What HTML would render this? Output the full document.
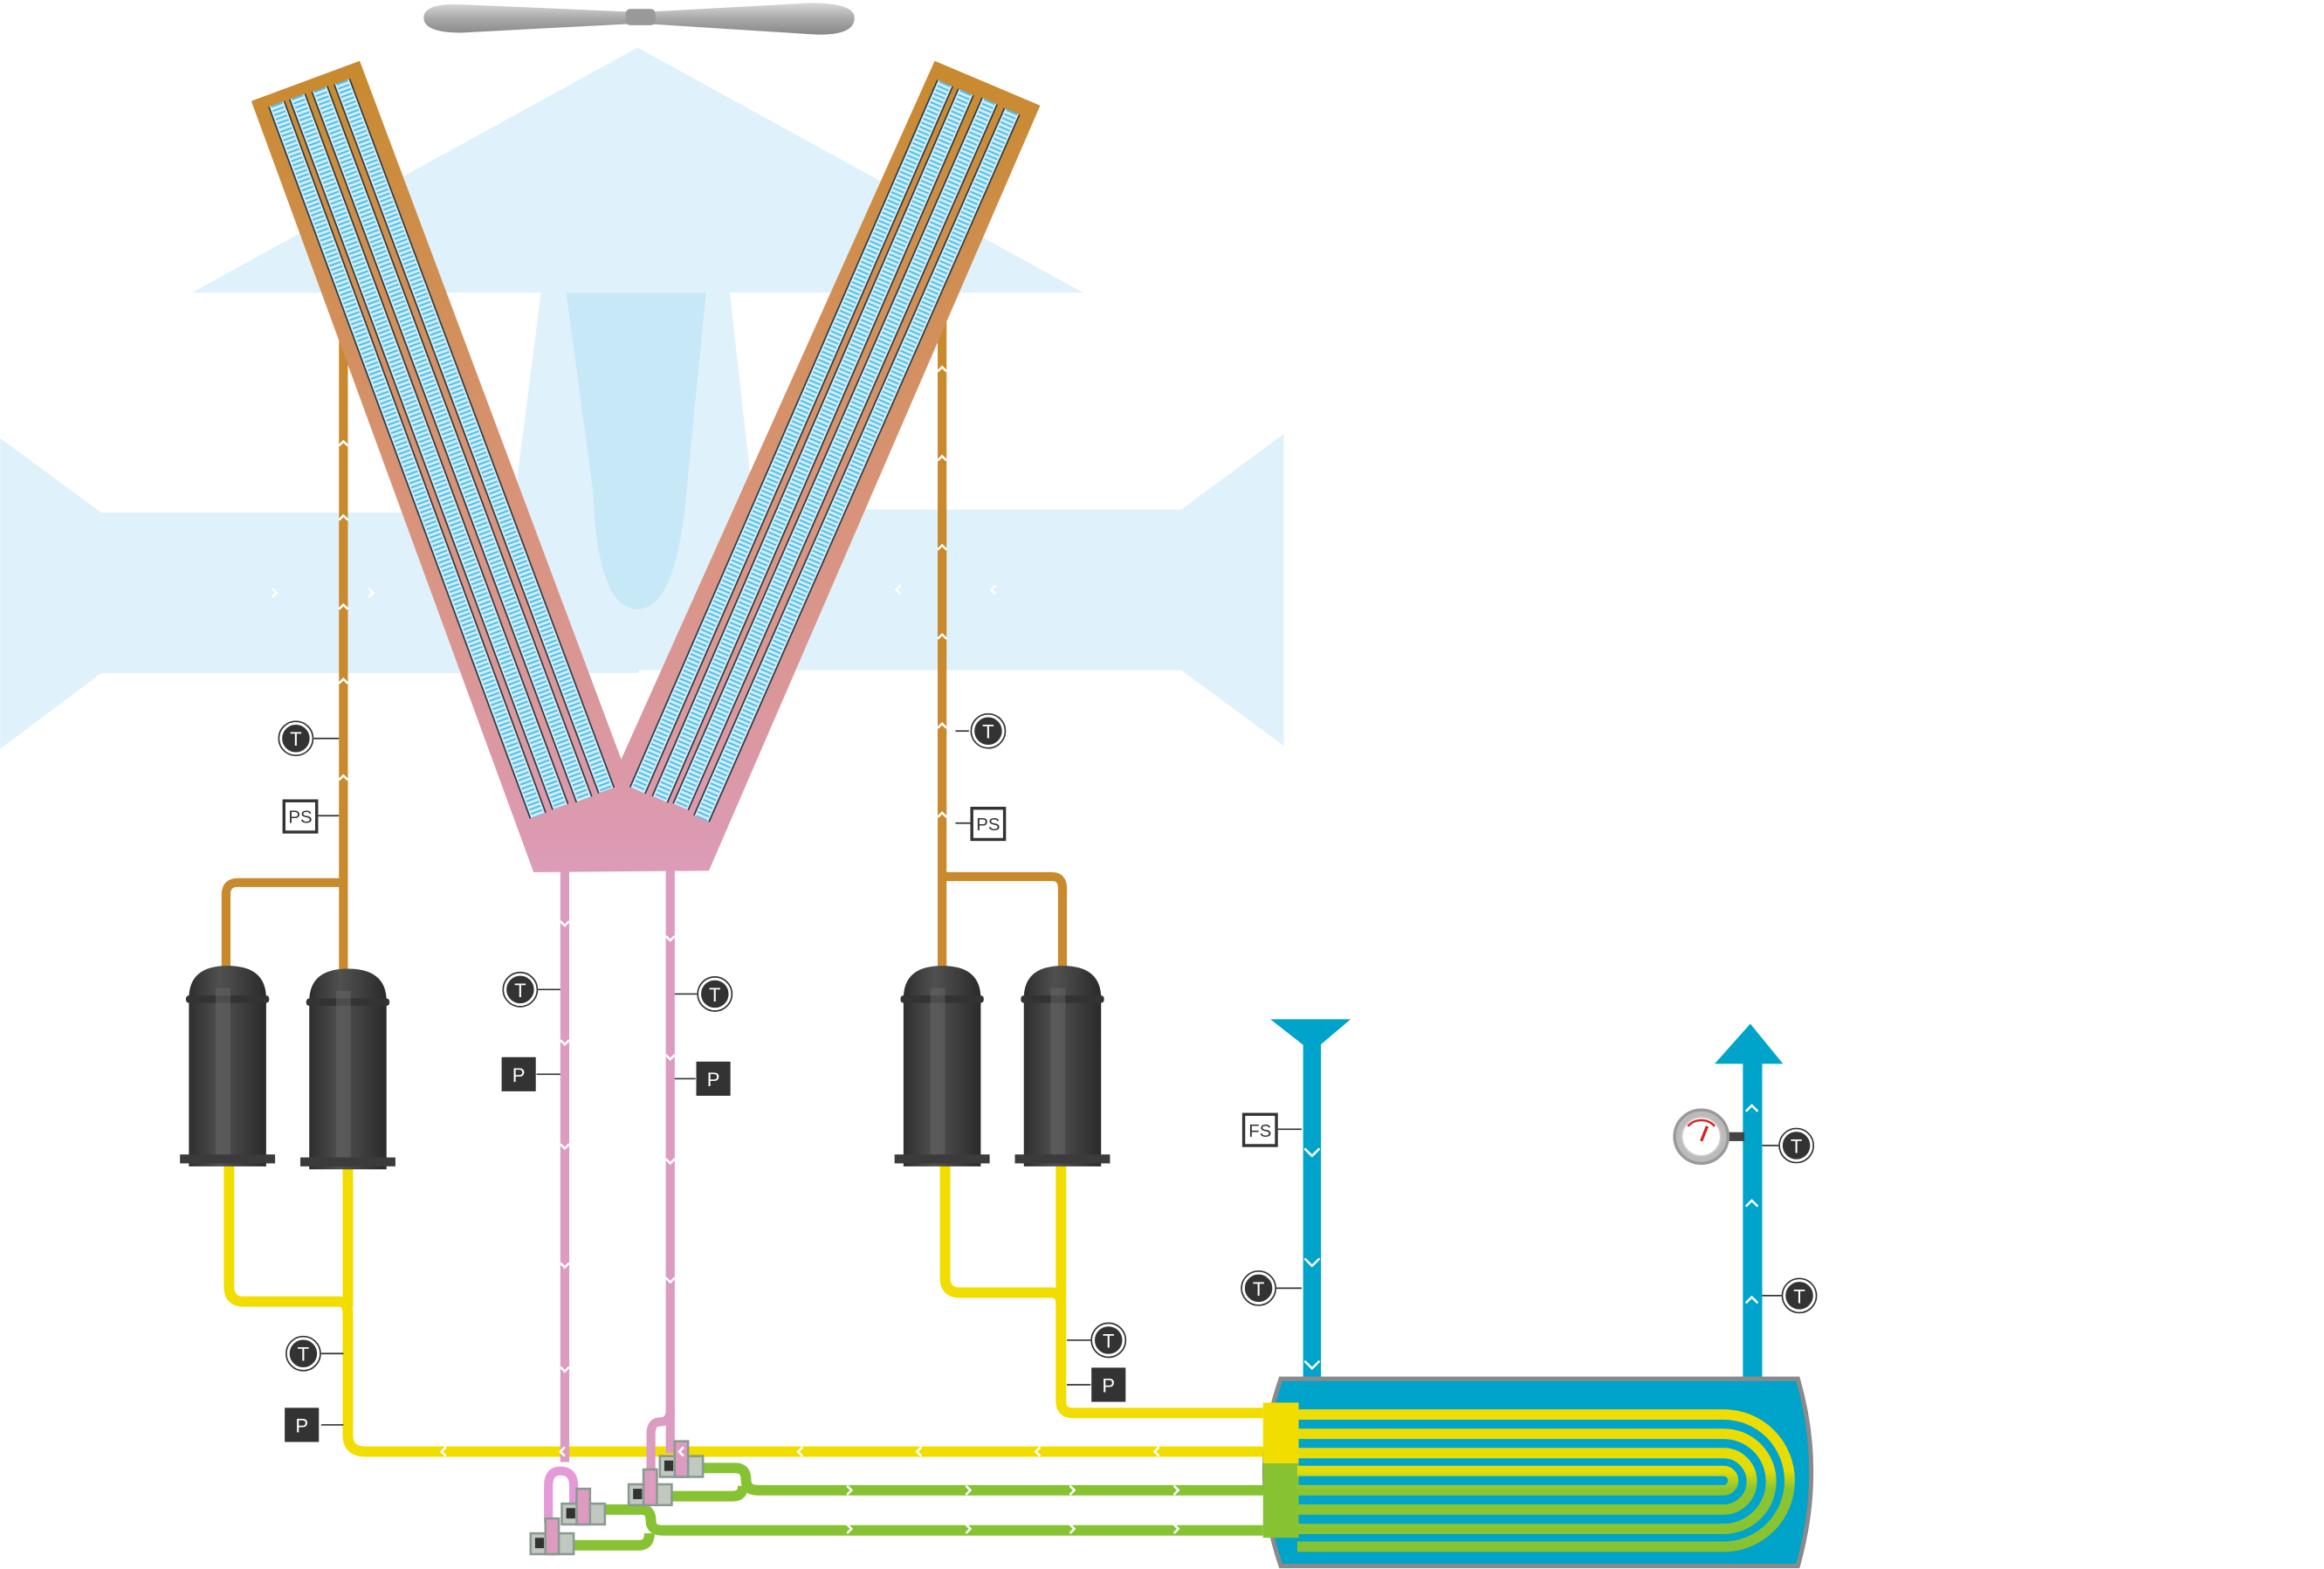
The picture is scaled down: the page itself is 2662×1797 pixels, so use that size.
<!DOCTYPE html>
<html><head><meta charset="utf-8"><style>html,body{margin:0;padding:0;background:#fff}svg{display:block}text{font-family:"Liberation Sans",sans-serif}</style></head><body>
<svg width="2662" height="1797" viewBox="0 0 1564 1056" xmlns="http://www.w3.org/2000/svg">
<defs>
<linearGradient id="vg" x1="0" y1="40" x2="0" y2="587" gradientUnits="userSpaceOnUse"><stop offset="0" stop-color="#c88a2c"/><stop offset="0.55" stop-color="#d9937a"/><stop offset="1" stop-color="#dc9bb8"/></linearGradient>
<linearGradient id="fan" x1="0" y1="0" x2="0" y2="1"><stop offset="0" stop-color="#d8d8d8"/><stop offset="0.5" stop-color="#a8a8a8"/><stop offset="1" stop-color="#888"/></linearGradient>
<linearGradient id="comp" x1="0" y1="0" x2="1" y2="0"><stop offset="0" stop-color="#2e2e2e"/><stop offset="0.4" stop-color="#505050"/><stop offset="0.6" stop-color="#444"/><stop offset="1" stop-color="#2a2a2a"/></linearGradient>
<linearGradient id="coil" x1="0" y1="950" x2="0" y2="1045" gradientUnits="userSpaceOnUse"><stop offset="0" stop-color="#f1dd00"/><stop offset="0.42" stop-color="#e3dc08"/><stop offset="0.55" stop-color="#8cc530"/><stop offset="1" stop-color="#86c232"/></linearGradient>
<g id="comp1">
<path d="M0,135 V22 Q0,0 26,0 Q52,0 52,22 V135 Z" fill="url(#comp)"/>
<rect x="-2" y="20" width="56" height="5" rx="2" fill="#333"/>
<rect x="18" y="15" width="10" height="115" fill="#666" opacity="0.5"/>
<rect x="-6" y="127" width="64" height="6" fill="#3b3b3b"/>
</g>
</defs>
<!-- air flow shapes -->
<g fill="#dff1fa">
<polygon points="429,32 729,197 129,197"/>
<path d="M364,197 L491,197 L506,330 Q510,440 429,440 Q350,440 347,330 Z"/>
<polygon points="0,295 68,345 430,345 430,453 68,453 0,504"/>
<polygon points="864,292 795,343 430,343 430,451 795,451 864,502"/>
</g>
<path d="M381,197 L475,197 L462,330 Q455,410 429,410 Q402,410 399,330 Z" fill="#c6e8f7"/>
<!-- fan -->
<path d="M285,12 Q285,2 310,3 L425,8 L435,8 L545,2 Q575,2 575,12 Q575,25 545,23 L435,16 L425,16 L310,22 Q285,22 285,12Z" fill="url(#fan)"/>
<rect x="421" y="6" width="20" height="11" rx="3" fill="#999"/>
<!-- orange pipes -->
<g fill="none" stroke="#c88a2c" stroke-width="6">
<path d="M231,222 V590 M231,594 H160 Q152,594 152,602 V652 M231,590 V655"/>
<path d="M634,210 V652 M634,590 H708 Q715,590 715,598 V652"/>
</g>
<!-- yellow pipes -->
<g fill="none" stroke="#f1dd00" stroke-width="7">
<path d="M154,784 V866 Q154,876 164,876 H228 Q234,876 234,884 V966 Q234,977 246,977 H850"/>
<path d="M234,784 V880"/>
<path d="M636,784 V860 Q636,870 646,870 H708 Q714,870 714,878 V943 Q714,951 722,951 H850"/>
<path d="M714,784 V876"/>
</g>
<!-- pink pipes -->
<g fill="none" stroke="#dc9bc0" stroke-width="6">
<path d="M380,585 V984"/>
<path d="M451,585 V949 Q451,957 444,957 Q438,957 438,965 V996"/>
<path d="M451,949 V978"/>
</g>
<path d="M369,1025 V1000 Q369,990 377,990 Q386,990 386,1000 V1012" fill="none" stroke="#e59ad8" stroke-width="6"/>
<!-- green pipes -->
<g fill="none" stroke="#86c232" stroke-width="7">
<path d="M468,988 H495 Q502,988 502,996 Q502,1003 510,1003 H850"/>
<path d="M448,1007 H493 Q500,1007 500,1000"/>
<path d="M403,1016 H432 Q438,1016 438,1024 Q438,1030 446,1030 H850"/>
<path d="M382,1040 H430 Q437,1040 437,1032"/>
</g>
<!-- valves -->
<g id="valves" stroke="#8a9a90" stroke-width="1.5">
<g transform="translate(444,974)"><rect x="0" y="6" width="29" height="14" fill="#c0c8c0"/><rect x="10" y="-4" width="9" height="24" fill="#dd9bc0"/><rect x="3" y="9" width="6" height="7" fill="#333" stroke="none"/></g>
<g transform="translate(423,993)"><rect x="0" y="6" width="29" height="14" fill="#c0c8c0"/><rect x="10" y="-4" width="9" height="24" fill="#dd9bc0"/><rect x="3" y="9" width="6" height="7" fill="#333" stroke="none"/></g>
<g transform="translate(378,1006)"><rect x="0" y="6" width="29" height="14" fill="#c0c8c0"/><rect x="10" y="-4" width="9" height="24" fill="#dd9bc0"/><rect x="3" y="9" width="6" height="7" fill="#333" stroke="none"/></g>
<g transform="translate(357,1026)"><rect x="0" y="6" width="29" height="14" fill="#c0c8c0"/><rect x="10" y="-4" width="9" height="24" fill="#dd9bc0"/><rect x="3" y="9" width="6" height="7" fill="#333" stroke="none"/></g>
</g>
<!-- V coil -->
<polygon points="169,68 242,41 418,511 629,41 700,71 477,586 359,587" fill="url(#vg)"/>
<g stroke-linecap="butt">
<g stroke="#2d3b42" stroke-width="12">
<line x1="186" y1="70" x2="362" y2="549"/><line x1="200" y1="65" x2="377" y2="543"/><line x1="215" y1="60" x2="393" y2="538"/><line x1="230" y1="55" x2="408" y2="532"/>
<line x1="636" y1="56" x2="429" y2="532"/><line x1="650" y1="62" x2="444" y2="538"/><line x1="666" y1="68" x2="458" y2="543"/><line x1="681" y1="75" x2="472" y2="551"/>
</g>
<g stroke="#cdeefb" stroke-width="10">
<line x1="186" y1="70" x2="362" y2="549"/><line x1="200" y1="65" x2="377" y2="543"/><line x1="215" y1="60" x2="393" y2="538"/><line x1="230" y1="55" x2="408" y2="532"/>
<line x1="636" y1="56" x2="429" y2="532"/><line x1="650" y1="62" x2="444" y2="538"/><line x1="666" y1="68" x2="458" y2="543"/><line x1="681" y1="75" x2="472" y2="551"/>
</g>
<g stroke="#55bde8" stroke-width="8" stroke-dasharray="1.2 1.8">
<line x1="186" y1="70" x2="362" y2="549"/><line x1="200" y1="65" x2="377" y2="543"/><line x1="215" y1="60" x2="393" y2="538"/><line x1="230" y1="55" x2="408" y2="532"/>
<line x1="636" y1="56" x2="429" y2="532"/><line x1="650" y1="62" x2="444" y2="538"/><line x1="666" y1="68" x2="458" y2="543"/><line x1="681" y1="75" x2="472" y2="551"/>
</g>
</g>
<!-- compressors -->
<use href="#comp1" x="127" y="650"/>
<use href="#comp1" x="208" y="652"/>
<use href="#comp1" x="608" y="650"/>
<use href="#comp1" x="689" y="650"/>
<!-- blue pipes -->
<rect x="877" y="700" width="12" height="230" fill="#00a3c9"/>
<polygon points="855,686 909,686 883,708" fill="#00a3c9"/>
<rect x="1173" y="712" width="13" height="220" fill="#00a3c9"/>
<polygon points="1154,716 1200,716 1178,689" fill="#00a3c9"/>
<!-- chevrons -->
<g fill="none" stroke="#fff" stroke-width="1.5">
<path d="M878,773 l5,5 l5,-5 M878,847 l5,5 l5,-5 M878,916 l5,5 l5,-5"/>
<path d="M1175,748 l4,-4 l4,4 M1175,812 l4,-4 l4,4 M1175,877 l4,-4 l4,4"/>
<path d="M228,300 l3,-3 l3,3 M228,350 l3,-3 l3,3 M228,410 l3,-3 l3,3 M228,460 l3,-3 l3,3 M228,525 l3,-3 l3,3"/>
<path d="M631,250 l3,-3 l3,3 M631,310 l3,-3 l3,3 M631,370 l3,-3 l3,3 M631,430 l3,-3 l3,3 M631,490 l3,-3 l3,3 M631,550 l3,-3 l3,3"/>
<path d="M377,620 l3,3 l3,-3 M377,700 l3,3 l3,-3 M377,770 l3,3 l3,-3 M377,850 l3,3 l3,-3 M377,920 l3,3 l3,-3"/>
<path d="M448,630 l3,3 l3,-3 M448,710 l3,3 l3,-3 M448,780 l3,3 l3,-3 M448,860 l3,3 l3,-3"/>
<path d="M300,974 l-3,3 l3,3 M380,974 l-3,3 l3,3 M460,974 l-3,3 l3,3 M540,974 l-3,3 l3,3 M620,974 l-3,3 l3,3 M700,974 l-3,3 l3,3 M780,974 l-3,3 l3,3"/>
<path d="M570,1000 l3,3 l-3,3 M650,1000 l3,3 l-3,3 M720,1000 l3,3 l-3,3 M790,1000 l3,3 l-3,3 M570,1026 l3,3 l-3,3 M650,1026 l3,3 l-3,3 M720,1026 l3,3 l-3,3 M790,1026 l3,3 l-3,3"/>
<path d="M183,396 l3,3 l-3,3 M248,396 l3,3 l-3,3 M606,394 l-3,3 l3,3 M670,394 l-3,3 l3,3"/>
</g>
<!-- tank -->
<path d="M862,928 H1210 Q1228,990 1210,1054 H862 Q840,990 862,928 Z" fill="#00a3c9" stroke="#8a8a8a" stroke-width="3"/>
<rect x="850" y="944" width="24" height="41" fill="#f1dd00"/>
<rect x="850" y="985" width="24" height="50" fill="#86c232"/>
<g fill="none" stroke="url(#coil)" stroke-width="7">
<path d="M873,952 H1160 A44.5,44.5 0 0 1 1160,1041 H873"/>
<path d="M873,965 H1160 A32,32 0 0 1 1160,1029 H873"/>
<path d="M873,978 H1160 A19,19 0 0 1 1160,1016 H873"/>
<path d="M873,990 H1160 A6.5,6.5 0 0 1 1160,1003 H873"/>
</g>
<!-- gauge -->
<rect x="1160" y="762" width="14" height="6" fill="#444"/>
<circle cx="1145" cy="765" r="18" fill="#bbb" stroke="#999" stroke-width="2"/>
<circle cx="1145" cy="765" r="13" fill="#fff" stroke="#ccc"/>
<path d="M1136,758 A12,12 0 0 1 1154,758" fill="none" stroke="#d22" stroke-width="1.5"/>
<line x1="1145" y1="768" x2="1149" y2="758" stroke="#d22" stroke-width="2"/>
<!-- sensors -->
<g stroke="#333" stroke-width="1">
<line x1="211" y1="497" x2="228" y2="497"/><line x1="214" y1="549" x2="228" y2="549"/>
<line x1="643" y1="492" x2="652" y2="492"/><line x1="643" y1="554" x2="653" y2="554"/>
<line x1="362" y1="666" x2="377" y2="666"/><line x1="361" y1="723" x2="377" y2="723"/>
<line x1="454" y1="669" x2="469" y2="669"/><line x1="454" y1="726" x2="468" y2="726"/>
<line x1="216" y1="911" x2="231" y2="911"/><line x1="216" y1="959" x2="231" y2="959"/>
<line x1="718" y1="902" x2="734" y2="902"/><line x1="718" y1="932" x2="734" y2="932"/>
<line x1="860" y1="760" x2="876" y2="760"/><line x1="859" y1="867" x2="876" y2="867"/>
<line x1="1186" y1="771" x2="1197" y2="771"/><line x1="1186" y1="872" x2="1199" y2="872"/>
</g>
<g font-size="13" text-anchor="middle">
<g fill="#333" stroke="#fff" stroke-width="1.5">
<circle cx="199" cy="497" r="11.5" stroke="#333" stroke-width="1" fill="#fff"/><circle cx="199" cy="497" r="10"/>
<circle cx="665" cy="492" r="11.5" stroke="#333" stroke-width="1" fill="#fff"/><circle cx="665" cy="492" r="10"/>
<circle cx="350" cy="666" r="11.5" stroke="#333" stroke-width="1" fill="#fff"/><circle cx="350" cy="666" r="10"/>
<circle cx="481" cy="669" r="11.5" stroke="#333" stroke-width="1" fill="#fff"/><circle cx="481" cy="669" r="10"/>
<circle cx="204" cy="911" r="11.5" stroke="#333" stroke-width="1" fill="#fff"/><circle cx="204" cy="911" r="10"/>
<circle cx="746" cy="902" r="11.5" stroke="#333" stroke-width="1" fill="#fff"/><circle cx="746" cy="902" r="10"/>
<circle cx="847" cy="867" r="11.5" stroke="#333" stroke-width="1" fill="#fff"/><circle cx="847" cy="867" r="10"/>
<circle cx="1209" cy="771" r="11.5" stroke="#333" stroke-width="1" fill="#fff"/><circle cx="1209" cy="771" r="10"/>
<circle cx="1211" cy="872" r="11.5" stroke="#333" stroke-width="1" fill="#fff"/><circle cx="1211" cy="872" r="10"/>
<rect x="338" y="712" width="22" height="22" stroke="#333" stroke-width="1"/>
<rect x="469" y="715" width="22" height="22" stroke="#333" stroke-width="1"/>
<rect x="192" y="948" width="22" height="22" stroke="#333" stroke-width="1"/>
<rect x="735" y="921" width="22" height="22" stroke="#333" stroke-width="1"/>
</g>
<g fill="#fff" stroke="#333" stroke-width="2">
<rect x="191" y="539" width="22" height="21"/><rect x="654" y="544" width="22" height="21"/><rect x="837" y="750" width="22" height="21"/>
</g>
<g fill="#fff">
<text x="199" y="502">T</text><text x="665" y="497">T</text><text x="350" y="671">T</text><text x="481" y="674">T</text>
<text x="204" y="916">T</text><text x="746" y="907">T</text><text x="847" y="872">T</text><text x="1209" y="776">T</text><text x="1211" y="877">T</text>
<text x="349" y="728">P</text><text x="480" y="731">P</text><text x="203" y="964">P</text><text x="746" y="937">P</text>
</g>
<g fill="#333" font-size="12">
<text x="202" y="554">PS</text><text x="665" y="559">PS</text><text x="848" y="765">FS</text>
</g>
</g>
</svg>
</body></html>
